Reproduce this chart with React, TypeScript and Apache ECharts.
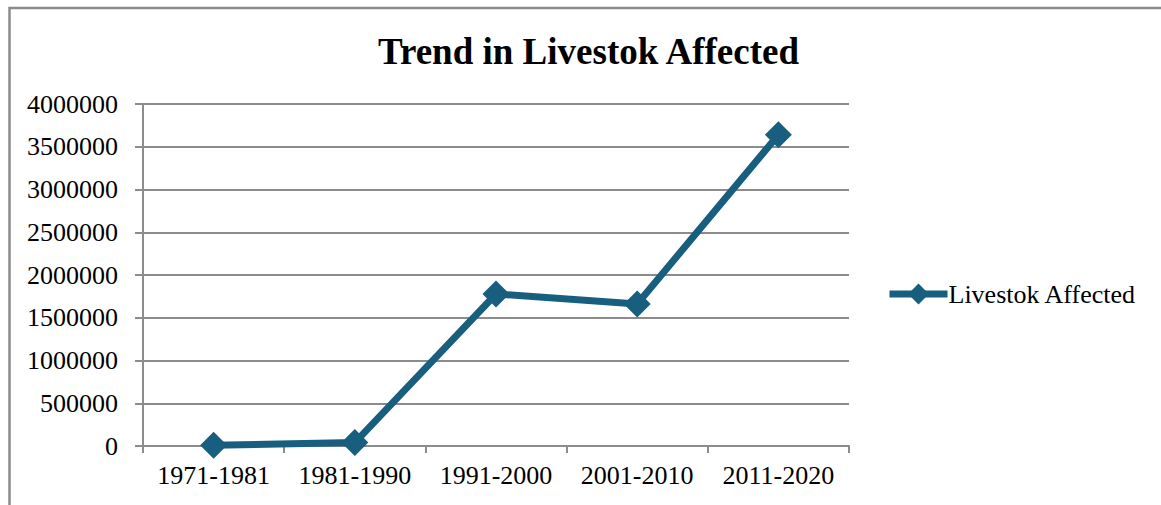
import React, { useEffect, useRef } from "react";
import * as echarts from "echarts";

const categories = ["1971-1981", "1981-1990", "1991-2000", "2001-2010", "2011-2020"];
const livestockAffected = [8000, 40000, 1778000, 1661000, 3640000];
const seriesName = "Livestok Affected";
const titleText = "Trend in Livestok Affected";

const SERIF = "Liberation Serif";
const GRAY = "#8c8c8c";
const BLUE = "#185f7f";

export default function App() {
  const ref = useRef<HTMLDivElement>(null);

  useEffect(() => {
    if (!ref.current) return;
    const chart = echarts.init(ref.current, undefined, { renderer: "svg" });
    chart.setOption({
      animation: false,
      backgroundColor: "#ffffff",
      textStyle: { fontFamily: SERIF },
      title: {
        text: titleText,
        left: 373,
        top: 28,
        textStyle: { fontFamily: SERIF, fontSize: 37, fontWeight: "bold", color: "#000" },
      },
      graphic: [
        {
          type: "rect",
          shape: { x: 9.5, y: 8, width: 1300, height: 700 },
          style: { fill: "none", stroke: GRAY, lineWidth: 2.5 },
          silent: true,
        },
      ],
      legend: {
        left: 881,
        top: 276,
        itemWidth: 58,
        itemHeight: 26,
        itemGap: 6,
        data: [seriesName],
        lineStyle: { width: 7 },
        textStyle: { fontFamily: SERIF, fontSize: 26, color: "#000", padding: [0, 0, 0, -4] },
      },
      grid: { left: 143, right: 312, top: 104, bottom: 59, containLabel: false },
      xAxis: {
        type: "category",
        data: categories,
        boundaryGap: true,
        axisLine: { lineStyle: { color: GRAY, width: 2 } },
        axisTick: { show: true, length: 7, lineStyle: { color: GRAY, width: 2 } },
        axisLabel: { fontFamily: SERIF, fontSize: 26, color: "#000", margin: 16, interval: 0 },
      },
      yAxis: {
        type: "value",
        min: 0,
        max: 4000000,
        interval: 500000,
        axisLine: { show: true, lineStyle: { color: GRAY, width: 2 } },
        axisTick: { show: true, length: 8, lineStyle: { color: GRAY, width: 2 } },
        axisLabel: {
          fontFamily: SERIF,
          fontSize: 26,
          color: "#000",
          margin: 25,
          formatter: (v: number) => String(v),
        },
        splitLine: { lineStyle: { color: GRAY, width: 2 } },
      },
      series: [
        {
          name: seriesName,
          type: "line",
          data: livestockAffected,
          symbol: "diamond",
          symbolSize: 27,
          itemStyle: { color: BLUE },
          lineStyle: { color: BLUE, width: 7 },
        },
      ],
    });
    return () => chart.dispose();
  }, []);

  return (
    <div
      ref={ref}
      style={{ position: "fixed", left: 0, top: 0, width: 1161, height: 505 }}
    />
  );
}
